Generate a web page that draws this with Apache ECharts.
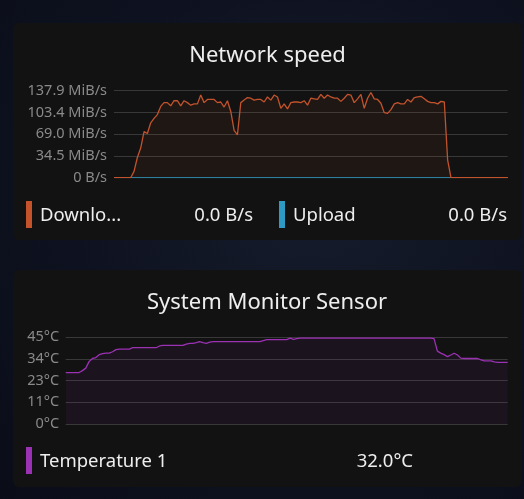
<!DOCTYPE html>
<html>
<head>
<meta charset="utf-8">
<script src="https://cdn.jsdelivr.net/npm/echarts@6/dist/echarts.min.js"></script>
<style>
html,body{margin:0;padding:0;width:524px;height:499px;overflow:hidden;
background:radial-gradient(ellipse at 60% 40%, #161c2c 0%, #0e1220 55%, #0a0d18 100%);}
#c{width:524px;height:499px;}
</style>
</head>
<body>
<div id="c"></div>
<script>
// Network speed samples (MiB/s)
const downloadValues = [
0,0,0,0,0,0,10,32,47,73,
70,87,94,100,113,119,119,114,122,122,
114,122,119,115,117,117,131,119,124,124,
124,119,120,112,122,105,75,68,119,123,
127,126,123,124,124,120,128,123,131,128,
110,117,109,119,120,120,119,122,115,126,
125,124,132,126,131,128,126,126,121,126,
132,131,119,125,132,110,126,135,125,124,
118,103,102,108,117,119,117,117,124,120,
127,128,129,125,121,119,119,117,121,120,
28,0,0,0,0,0,0,0,0,0,
0,0,0,0,0,0,0,0,0
];
const uploadValues = [
0,0,0,0,0,0,0,0,0,0,
0,0,0,0,0,0,0,0,0,0,
0,0,0,0,0,0,0,0,0,0,
0,0,0,0,0,0,0,0,0,0,
0,0,0,0,0,0,0,0,0,0,
0,0,0,0,0,0,0,0,0,0,
0,0,0,0,0,0,0,0,0,0,
0,0,0,0,0,0,0,0,0,0,
0,0,0,0,0,0,0,0,0,0,
0,0,0,0,0,0,0,0,0,0,
0,0,0,0,0,0,0,0,0,0,
0,0,0,0,0,0,0,0,0
];
const netMax = 137.9;
const netTicks = ['0 B/s','34.5 MiB/s','69.0 MiB/s','103.4 MiB/s','137.9 MiB/s'];

// Temperature samples (°C)
const tempValues = [
26.7,26.7,26.7,26.7,26.7,27.7,29,32.5,34,34.5,
36,36.5,36.8,36.8,37.5,38.6,38.9,38.9,38.9,38.9,
39.6,39.6,39.6,39.6,39.6,39.6,39.6,39.6,40.5,40.8,
40.8,40.8,40.8,40.8,40.8,40.8,41.5,41.8,41.8,42.2,
42.7,42.2,41.9,42.5,42.8,42.8,42.8,42.8,42.8,42.8,
42.8,42.8,42.8,42.8,42.8,42.8,42.8,42.8,42.8,43.3,
43.8,43.8,43.8,43.8,43.8,43.8,43.8,44.6,43.9,44.3,
44.6,44.6,44.6,44.6,44.6,44.6,44.6,44.6,44.6,44.6,
44.6,44.6,44.6,44.6,44.6,44.6,44.6,44.6,44.6,44.6,
44.6,44.6,44.6,44.6,44.6,44.6,44.6,44.6,44.6,44.6,
44.6,44.6,44.6,44.6,44.6,44.6,44.6,44.6,44.6,44.6,
44.3,37.8,36.8,36.0,35.0,35.8,36.7,35.8,34.2,34.0,
34.0,34.0,34.0,34.0,33.3,32.8,32.8,32.8,32.3,32.0,
32.0,32.0,32.0
];
const tempMax = 45;
const tempTicks = ['0°C','11°C','23°C','34°C','45°C'];

const legendNet = [
  {name:'Downlo...', value:'0.0 B/s', color:'#c4532b'},
  {name:'Upload', value:'0.0 B/s', color:'#2e9ac4'}
];
const legendTemp = [{name:'Temperature 1', value:'32.0°C', color:'#9b31b3'}];

const FONT = 'Noto Sans';
const chart = echarts.init(document.getElementById('c'), null, {renderer:'canvas'});

function yAx(gi, max, ticks, margin){
  const iv = max/4;
  return {
    gridIndex: gi, type:'value', min:0, max:max, interval:iv,
    axisLine:{show:false}, axisTick:{show:false},
    axisLabel:{color:'#8a8a8a', fontSize:14.5, fontFamily:FONT, margin:margin,
      formatter:(v)=>ticks[Math.round(v/iv)]},
    splitLine:{lineStyle:{color:'#383838', width:1}}
  };
}
function xAx(gi, n){
  return {gridIndex:gi, type:'value', min:0, max:n-1, show:false, splitLine:{show:false}};
}

const graphics = [
  {type:'rect', z:-10, shape:{x:13,y:23,width:509,height:217,r:6}, style:{fill:'#121212'}},
  {type:'rect', z:-10, shape:{x:13,y:270,width:509,height:217,r:6}, style:{fill:'#121212'}}
];
function addLegend(items, y, xs, valueRights){
  items.forEach((it,k)=>{
    graphics.push({type:'rect', z:5, shape:{x:xs[k],y:y-13,width:6,height:27}, style:{fill:it.color}});
    graphics.push({type:'text', z:5, x:xs[k]+14, y:y+2, style:{text:it.name, fill:'#eeeeee', font:'18.5px "Noto Sans"', textVerticalAlign:'middle', textAlign:'left'}});
    graphics.push({type:'text', z:5, x:valueRights[k], y:y+2, style:{text:it.value, fill:'#eeeeee', font:'18.5px "Noto Sans"', textVerticalAlign:'middle', textAlign:'right'}});
  });
}
addLegend(legendNet, 214, [26,279], [253,507]);
addLegend(legendTemp, 460, [26], [413]);

chart.setOption({
  backgroundColor:'transparent',
  animation:false,
  title:[
    {text:'Network speed', left:267.5, textAlign:'center', top:45, padding:0, textStyle:{color:'#eeeeee', fontSize:22, fontWeight:'normal', fontFamily:FONT}},
    {text:'System Monitor Sensor', left:267, textAlign:'center', top:292, padding:0, textStyle:{color:'#eeeeee', fontSize:22, fontWeight:'normal', fontFamily:FONT}}
  ],
  grid:[
    {left:114, right:16.3, top:90.7, height:87},
    {left:65.7, right:16.3, top:337.3, height:86.7}
  ],
  xAxis:[xAx(0, downloadValues.length), xAx(1, tempValues.length)],
  yAxis:[yAx(0, netMax, netTicks, 7), yAx(1, tempMax, tempTicks, 6.5)],
  graphic: graphics,
  series:[
    {type:'line', xAxisIndex:0, yAxisIndex:0, data:uploadValues.map((v,i)=>[i,v]), symbol:'none',
      lineStyle:{color:'#2e7f9e', width:1.2}, areaStyle:{color:'rgba(46,154,196,0.1)'}},
    {type:'line', xAxisIndex:0, yAxisIndex:0, data:downloadValues.map((v,i)=>[i,v]), symbol:'none',
      lineStyle:{color:'#c2532c', width:1.3}, areaStyle:{color:'rgba(196,83,43,0.11)'}},
    {type:'line', xAxisIndex:1, yAxisIndex:1, data:tempValues.map((v,i)=>[i,v]), symbol:'none',
      lineStyle:{color:'#9b31b3', width:1.3}, areaStyle:{color:'rgba(155,49,179,0.1)'}}
  ]
});
</script>
</body>
</html>
